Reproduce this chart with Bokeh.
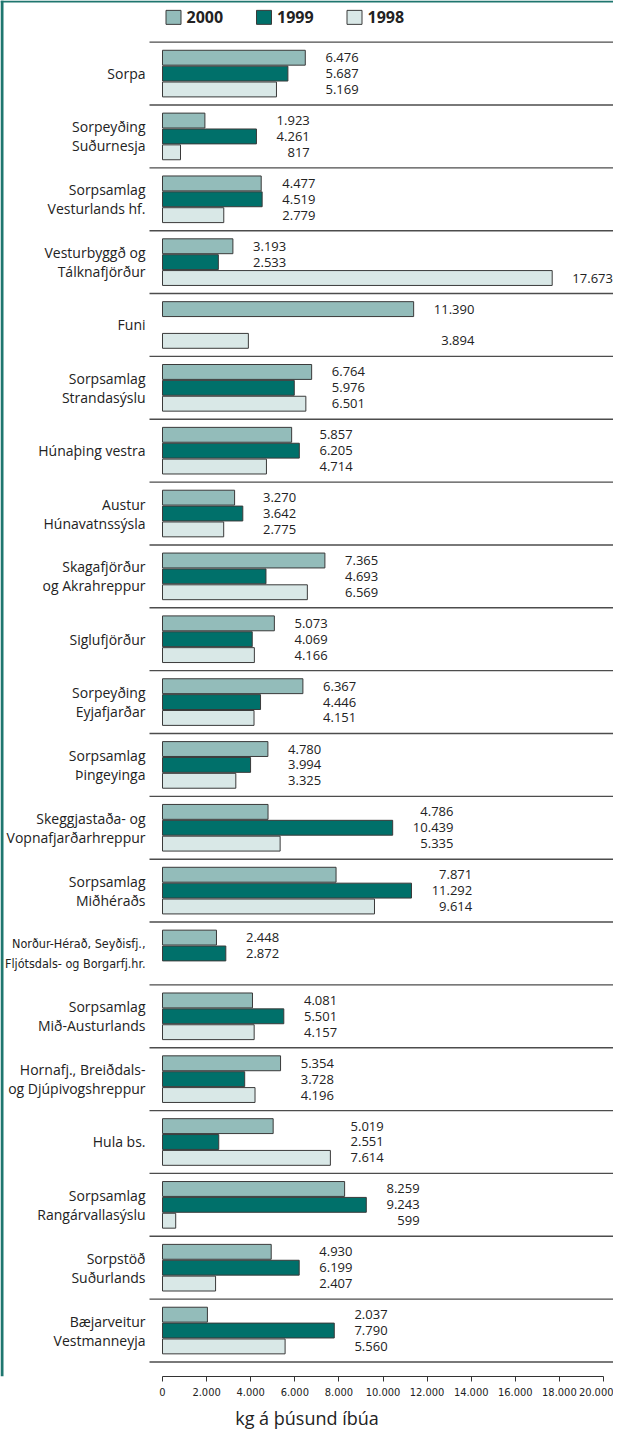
import math
from bokeh.plotting import figure
from bokeh.models import Range1d, FixedTicker, Span, ColumnDataSource
from bokeh.core.properties import value
from bokeh.embed import file_html
from bokeh.resources import INLINE

# ---------------- data ----------------
groups = [
    "Sorpa",
    "Sorpeyðing\nSuðurnesja",
    "Sorpsamlag\nVesturlands hf.",
    "Vesturbyggð og\nTálknafjörður",
    "Funi",
    "Sorpsamlag\nStrandasýslu",
    "Húnaþing vestra",
    "Austur\nHúnavatnssýsla",
    "Skagafjörður\nog Akrahreppur",
    "Siglufjörður",
    "Sorpeyðing\nEyjafjarðar",
    "Sorpsamlag\nÞingeyinga",
    "Skeggjastaða- og\nVopnafjarðarhreppur",
    "Sorpsamlag\nMiðhéraðs",
    "Norður-Hérað, Seyðisfj.,\nFljótsdals- og Borgarfj.hr.",
    "Sorpsamlag\nMið-Austurlands",
    "Hornafj., Breiðdals-\nog Djúpivogshreppur",
    "Hula bs.",
    "Sorpsamlag\nRangárvallasýslu",
    "Sorpstöð\nSuðurlands",
    "Bæjarveitur\nVestmanneyja",
]
NaN = float("nan")
v2000 = [6476, 1923, 4477, 3193, 11390, 6764, 5857, 3270, 7365, 5073, 6367,
         4780, 4786, 7871, 2448, 4081, 5354, 5019, 8259, 4930, 2037]
v1999 = [5687, 4261, 4519, 2533, NaN, 5976, 6205, 3642, 4693, 4069, 4446,
         3994, 10439, 11292, 2872, 5501, 3728, 2551, 9243, 6199, 7790]
v1998 = [5169, 817, 2779, 17673, 3894, 6501, 4714, 2775, 6569, 4166, 4151,
         3325, 5335, 9614, NaN, 4157, 4196, 7614, 599, 2407, 5560]
series_names = ["2000", "1999", "1998"]
ticks = [0, 2000, 4000, 6000, 8000, 10000, 12000, 14000, 16000, 18000, 20000]
tick_labels = ["0", "2.000", "4.000", "6.000", "8.000", "10.000", "12.000",
               "14.000", "16.000", "18.000", "20.000"]
axis_title = "kg á þúsund íbúa"
condensed_groups = [14]

# ---------------- layout ----------------
W, H = 613, 1432
FRAME_H = 1387
X0_PX = 162
PXU = 22.05 / 1000.0
x_start = -X0_PX / PXU
x_end = (W - X0_PX) / PXU
GROUP_PX = 63.35
TOP_PX = 42
y_top = -TOP_PX / GROUP_PX - 0.5
y_bottom = (FRAME_H - TOP_PX) / GROUP_PX - 0.5

COND = "'DejaVu Sans Condensed', 'Roboto', sans-serif"

colors = ["#93bcba", "#00706a", "#d9e8e7"]
edge = "#3a3a3a"
offsets = [-16 / GROUP_PX, 0.0, 16 / GROUP_PX]
bar_h = 15 / GROUP_PX

p = figure(width=W, height=H, x_range=Range1d(x_start, x_end),
           y_range=Range1d(y_bottom, y_top), output_backend="svg",
           toolbar_location=None, min_border_left=0, min_border_right=0,
           min_border_top=0, min_border_bottom=H - FRAME_H)
p.yaxis.visible = False
p.xgrid.visible = False
p.ygrid.visible = False
p.outline_line_color = None
p.background_fill_color = "white"

series = [v2000, v1999, v1998]
for k, vals in enumerate(series):
    ys, rs = [], []
    for i, v in enumerate(vals):
        if not math.isnan(v):
            ys.append(i + offsets[k])
            rs.append(v)
    src = ColumnDataSource(dict(y=ys, right=rs))
    p.hbar(y="y", left=0, right="right", height=bar_h, source=src,
           fill_color=colors[k], line_color=edge, line_width=1)

# separators
sep_y = [i - 0.5 for i in range(len(groups) + 1)]
p.segment(x0=-13 / PXU, x1=x_end, y0=sep_y, y1=sep_y, line_color="#4d4d4d",
          line_width=1.4)

# value labels
def fmt(v):
    return f"{int(v):,}".replace(",", ".")

def label_w(s):
    return sum(3.5 if c == "." else 7.45 for c in s)

GAP = 20
lx, ly, lt, lo = [], [], [], []
for i in range(len(groups)):
    vals = [series[k][i] for k in range(3)]
    present = [(k, v) for k, v in enumerate(vals) if not math.isnan(v)]
    mx = max(v for _, v in present)
    rest = [v for _, v in present if v != mx]
    for k, v in present:
        if rest and mx > 4 * max(rest):
            col = mx if v == mx else max(rest)
        else:
            col = mx
        lx.append(col)
        ly.append(i + offsets[k])
        lt.append(fmt(v))
        lo.append(GAP + label_w(fmt(col)))
p.text(x="x", y="y", text="t", x_offset="o",
       source=ColumnDataSource(dict(x=lx, y=ly, t=lt, o=lo)),
       text_align="right", text_baseline="middle", text_font=value("Open Sans"),
       text_font_size="13px", text_color="#222222")

# category labels
norm_idx = [i for i in range(len(groups)) if i not in condensed_groups]
p.text(x=[0] * len(norm_idx), y=norm_idx, text=[groups[i] for i in norm_idx],
       x_offset=-17, text_align="right", text_baseline="middle",
       text_font=value("Open Sans"), text_font_size="14px",
       text_line_height=1.0, text_color="#222222")
p.text(x=[0] * len(condensed_groups), y=condensed_groups,
       text=[groups[i] for i in condensed_groups],
       x_offset=-17, text_align="right", text_baseline="middle",
       text_font=value(COND), text_font_size="12.5px",
       text_line_height=1.3, text_color="#222222")

# legend (drawn in the plot, above the first group)
LEG_Y_PX = 17
LEG_X0_PX = 173
LEG_STEP_PX = 90.5
leg_x = [(LEG_X0_PX + k * LEG_STEP_PX - X0_PX) / PXU for k in range(3)]
leg_y = [y_top + LEG_Y_PX / GROUP_PX] * 3
p.rect(x=leg_x, y=leg_y, width=15, height=14, width_units="screen",
       height_units="screen", fill_color=colors, line_color=edge, line_width=1)
p.text(x=leg_x, y=leg_y, text=series_names, x_offset=13, text_align="left",
       text_baseline="middle", text_font=value("Open Sans"),
       text_font_style="bold", text_font_size="16px", text_color="#222222")

# x axis
ax = p.xaxis[0]
ax.ticker = FixedTicker(ticks=ticks)
ax.major_label_overrides = {t: l for t, l in zip(ticks, tick_labels)}
ax.bounds = (ticks[0], ticks[-1])
ax.axis_line_color = "#333333"
ax.major_tick_line_color = "#333333"
ax.major_tick_in = 0
ax.major_tick_out = 5
ax.minor_tick_line_color = None
ax.major_label_standoff = 6
ax.major_label_text_font = COND
ax.major_label_text_font_size = "11px"
ax.major_label_text_color = "#222222"
ax.axis_label = axis_title
ax.axis_label_standoff = 7
ax.axis_label_text_font = "Open Sans"
ax.axis_label_text_font_style = "normal"
ax.axis_label_text_font_size = "18px"
ax.axis_label_text_color = "#222222"

# teal frame edges
p.add_layout(Span(location=x_start + 1.5 / PXU, dimension="height",
                  line_color="#1f766f", line_width=3))
p.add_layout(Span(location=y_top + 1 / GROUP_PX, dimension="width",
                  line_color="#1f766f", line_width=2))

open("out.html", "w").write(file_html(p, INLINE))
